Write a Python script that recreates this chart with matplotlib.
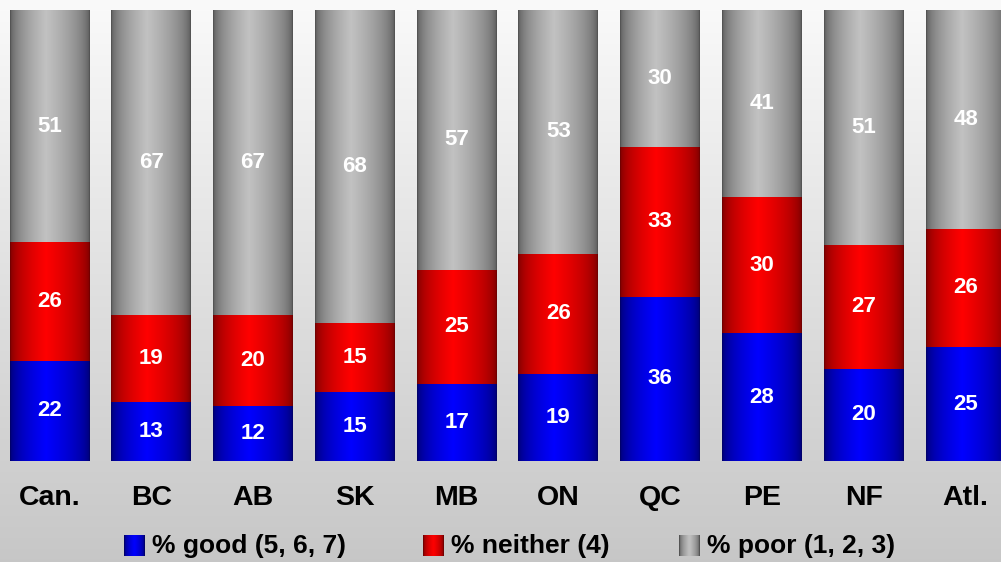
import numpy as np
import matplotlib
matplotlib.use("Agg")
import matplotlib.pyplot as plt

# data
regions = ["Can.", "BC", "AB", "SK", "MB", "ON", "QC", "PE", "NF", "Atl."]
good = [22, 13, 12, 15, 17, 19, 36, 28, 20, 25]
neither = [26, 19, 20, 15, 25, 26, 33, 30, 27, 26]
poor = [51, 67, 67, 68, 57, 53, 30, 41, 51, 48]
legend_labels = ["% good (5, 6, 7)", "% neither (4)", "% poor (1, 2, 3)"]

# edge colour, centre colour for the cylinder shading
shades = [((0.0, 0.0, 0.42), (0.0, 0.0, 1.0)),
          ((0.45, 0.0, 0.0), (1.0, 0.0, 0.0)),
          ((0.33, 0.33, 0.33), (0.76, 0.76, 0.76))]


def shade_strip(dark, light, n=80, peak=0.45):
    t = np.linspace(0, 1, n)
    p = np.where(t < peak, t / peak, (1 - t) / (1 - peak))
    p = np.sqrt(np.clip(p, 0, 1))
    dark = np.array(dark)
    light = np.array(light)
    img = dark[None, :] + (light - dark)[None, :] * p[:, None]
    return img[None, :, :]


W, H = 1001, 562
fig = plt.figure(figsize=(W / 100, H / 100), dpi=100)

# background gradient
bg = fig.add_axes([0, 0, 1, 1])
col = np.linspace(0.98, 0.78, 200)
bg.imshow(np.repeat(col[:, None, None], 3, axis=2), aspect="auto",
          extent=(0, 1, 0, 1), interpolation="bilinear")
bg.set_axis_off()

# main axes: bars from y=10 to y=461 in pixels
ax = fig.add_axes([0, (H - 461) / H, 1, 451 / H])
ax.patch.set_alpha(0)
ax.set_axis_off()

x = np.arange(len(regions))
width = 0.785
unit = 101.78

for i in range(len(regions)):
    vals = [good[i], neither[i], poor[i]]
    total = float(sum(vals))
    bottom = 0.0
    for k, v in enumerate(vals):
        h = v / total * 100
        img = shade_strip(*shades[k])
        ax.imshow(img, aspect="auto", interpolation="bilinear",
                  extent=(x[i] - width / 2, x[i] + width / 2, bottom, bottom + h))
        ax.text(x[i], bottom + h / 2, str(v), ha="center", va="center",
                color="white", fontsize=16, fontweight="bold",
                family="Liberation Sans")
        bottom += h
ax.set_xlim(-49.5 / unit, (W - 49.5) / unit)
ax.set_ylim(0, 100)

# category labels
for i, r in enumerate(regions):
    fig.text((49.5 + i * unit) / W, 1 - 498 / H, r, ha="center", va="center",
             fontsize=20.5, fontweight="bold", family="Liberation Sans")

# legend
ov = fig.add_axes([0, 0, 1, 1])
ov.patch.set_alpha(0)
ov.set_axis_off()
leg_x = [124, 423, 679]
for k, lab in enumerate(legend_labels):
    ov.imshow(shade_strip(*shades[k], n=20, peak=0.5), aspect="auto",
              interpolation="bilinear",
              extent=(leg_x[k], leg_x[k] + 21, 556, 535))
    ov.text(leg_x[k] + 28, 546, lab, ha="left", va="center", fontsize=19,
            fontweight="bold", family=["Liberation Sans Narrow", "Liberation Sans"])
ov.set_xlim(0, W)
ov.set_ylim(H, 0)

fig.savefig("out.png", dpi=100)
